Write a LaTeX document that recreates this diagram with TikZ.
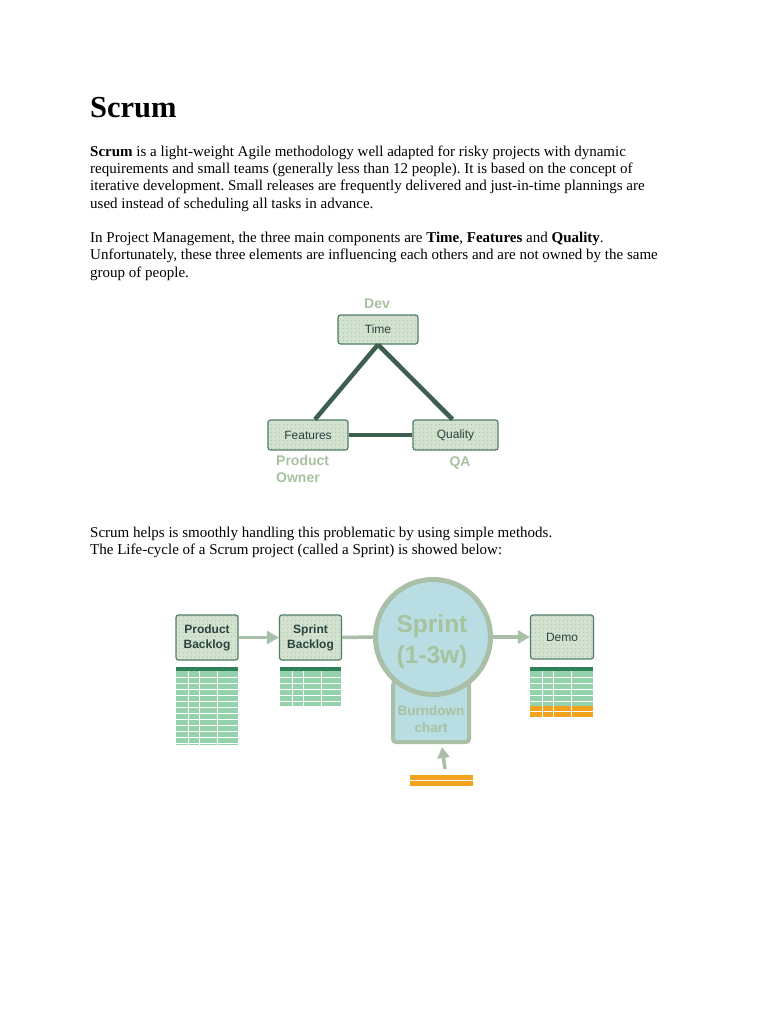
\documentclass[tikz,border=0pt]{standalone}
\usepackage{fontspec}
\setmainfont{Liberation Serif}
\newfontfamily\sansf{Liberation Sans}
\usetikzlibrary{arrows.meta,patterns.meta,calc}
\frenchspacing
\definecolor{boxfill}{HTML}{D2E2CF}
\definecolor{boxdraw}{HTML}{4F7E66}
\definecolor{boxtext}{HTML}{2A443E}
\definecolor{trigreen}{HTML}{3E5F50}
\definecolor{pale}{HTML}{A7C29F}
\definecolor{arrowgray}{HTML}{A9BFA8}
\definecolor{circfill}{HTML}{B8DDE3}
\definecolor{tabgreen}{HTML}{93D2AA}
\definecolor{tabdark}{HTML}{2F7F57}
\definecolor{orangebar}{HTML}{F2A21C}
\tikzset{
  bodytext/.style={anchor=base west, inner sep=0pt, font=\fontsize{15}{17}\selectfont},
  dotbox/.style={draw=boxdraw, line width=1.2pt, rounded corners=2.5pt,
    preaction={fill=boxfill}, pattern={Dots[distance=4pt,radius=0.5pt]},
    pattern color=boxdraw!60, text=boxtext, inner sep=0pt, align=center,
    font=\sansf\fontsize{12}{14}\selectfont},
  palelabel/.style={text=pale, inner sep=0pt, font=\sansf\bfseries\fontsize{14}{17}\selectfont},
  triline/.style={draw=trigreen, line width=4.5pt},
  garrow/.style={draw=arrowgray, line width=3.5pt, -{Triangle[length=12pt,width=13pt]}},
  gline/.style={draw=arrowgray, line width=3.5pt},
}
\newcommand\greentable[4]{% x1 y1 x2 y2
  \fill[tabgreen] (#1,#2) rectangle (#3,#4);
  \pgfmathtruncatemacro\ystart{#2+10}
  \pgfmathtruncatemacro\ysecond{#2+16}
  \foreach \yy in {\ystart,\ysecond,...,#4}{\draw[white, line width=0.8pt] (#1,\yy) -- (#3,\yy);}
  \foreach \dx in {12,23,41}{\draw[white, line width=0.8pt] ({#1+\dx},#2) -- ({#1+\dx},#4);}
  \fill[tabdark] (#1,#2) rectangle (#3,{#2+4});
}
\begin{document}
\begin{tikzpicture}[x=1pt,y=-1pt]
\useasboundingbox (0,0) rectangle (768,1024);
\fill[white] (0,0) rectangle (768,1024);

% Title and text
\node[anchor=base west, inner sep=0pt, font=\bfseries\fontsize{30.5}{36}\selectfont] (title) at (90,118) {Scrum};
\node[bodytext] (l1) at (90,156.5) {\textbf{Scrum} is a light-weight Agile methodology well adapted for risky projects with dynamic};
\node[bodytext] (l2) at (90,173.5) {requirements and small teams (generally less than 12 people). It is based on the concept of};
\node[bodytext] (l3) at (90,191) {iterative development. Small releases are frequently delivered and just-in-time plannings are};
\node[bodytext] (l4) at (90,208.5) {used instead of scheduling all tasks in advance.};
\node[bodytext] (l5) at (90,242) {In Project Management, the three main components are \textbf{Time}, \textbf{Features} and \textbf{Quality}.};
\node[bodytext] (l6) at (90,259.5) {Unfortunately, these three elements are influencing each others and are not owned by the same};
\node[bodytext] (l7) at (90,277) {group of people.};
\node[bodytext] (l8) at (90,537) {Scrum helps is smoothly handling this problematic by using simple methods.};
\node[bodytext] (l9) at (90,554.5) {The Life-cycle of a Scrum project (called a Sprint) is showed below:};

% Triangle diagram
\node[dotbox, minimum width=80pt, minimum height=29pt] (time) at (378,329.5) {Time};
\node[dotbox, minimum width=80pt, minimum height=30pt] (feat) at (308,435) {Features};
\node[dotbox, minimum width=85pt, minimum height=30pt] (qual) at (455.5,435) {Quality};
\draw[triline] (time.south) -- ($(feat.north)+(7,0)$);
\draw[triline] (time.south) -- ($(qual.north)+(-3,0)$);
\draw[triline] (feat.east) -- (qual.west);
\node[palelabel] (dev) at (377,303.5) {Dev};
\node[palelabel, anchor=north west, align=left, font=\sansf\bfseries\fontsize{14}{17}\selectfont] (po) at (276,455.5) {Product\\Owner};
\node[palelabel] (qa) at (460,462.5) {QA};

% Sprint life-cycle
\node[dotbox, font=\sansf\bfseries\fontsize{12}{15}\selectfont, minimum width=62pt, minimum height=45pt] (pb) at (207,637.5) {Product\\Backlog};
\node[dotbox, font=\sansf\bfseries\fontsize{12}{15}\selectfont, minimum width=62pt, minimum height=45pt] (sb) at (310.5,637.5) {Sprint\\Backlog};
\node[dotbox, minimum width=63pt, minimum height=44pt] (demo) at (562,637) {Demo};

\node[draw=arrowgray, fill=circfill, line width=4pt, rounded corners=3pt, minimum width=76pt, minimum height=60pt, inner sep=0pt] (burn) at (431,712) {};
\node[text=pale, align=center, inner sep=0pt, font=\sansf\bfseries\fontsize{13.5}{17}\selectfont] (burntext) at (431,719.5) {Burndown\\chart};
\node[circle, draw=arrowgray, fill=circfill, line width=5pt, minimum size=115pt, inner sep=0pt] (sprint) at (433,637) {};
\node[text=pale, align=center, inner sep=0pt, font=\sansf\bfseries\fontsize{24.5}{31}\selectfont] (sprinttext) at (432,642) {Sprint\\(1-3w)};

\draw[garrow] (pb.east) -- (sb.west);
\draw[gline] (sb.east) -- (sprint.west);
\draw[garrow] (sprint.east) -- (demo.west);

% tables
\greentable{176}{667}{238}{745}
\greentable{280}{667}{341}{706}
\greentable{530}{667}{593}{706}
\fill[orangebar] (530,706) rectangle (593,717);
\draw[white, line width=0.8pt] (530,711.5) -- (593,711.5);
\foreach \dx in {12,23,41}{\draw[white, line width=0.8pt] ({530+\dx},706) -- ({530+\dx},717);}

% orange bars and arrow into burndown
\node[fill=orangebar, minimum width=63pt, minimum height=11pt, inner sep=0pt] (ob) at (441.5,780.5) {};
\draw[white, line width=1pt] (ob.west) -- (ob.east);
\coordinate (obtop) at (445,769);
\draw[draw=arrowgray, line width=3.5pt, -{Triangle[length=11pt,width=12pt]}] (obtop) -- ($(burn.south)+(11,3)$);
\end{tikzpicture}
\end{document}
